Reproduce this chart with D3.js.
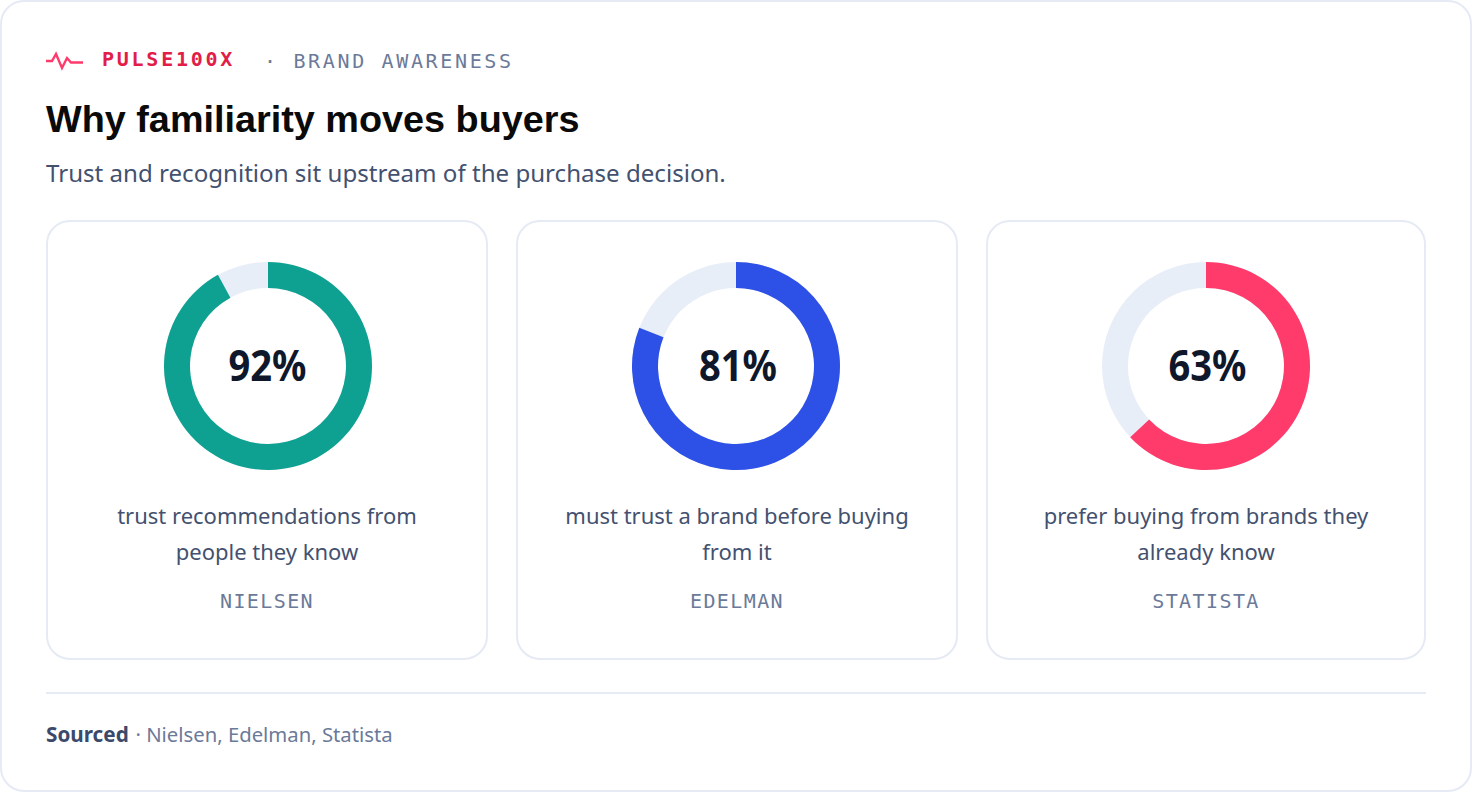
<!DOCTYPE html>
<html><head><meta charset="utf-8">
<script src="https://cdn.jsdelivr.net/npm/d3@7/dist/d3.min.js"></script>
<style>html,body{margin:0;padding:0;background:#fff}svg{display:block}</style>
</head><body><svg id="c" width="1472" height="792"></svg>
<script>
const percents=[92,81,63];
const sources=["NIELSEN","EDELMAN","STATISTA"];
const colors=["#0ea192","#2d50e6","#ff3b6b"];
const captions=[["trust recommendations from","people they know"],["must trust a brand before buying","from it"],["prefer buying from brands they","already know"]];
const pulsePts=[[0,0],[6,0],[10,-7],[16,7],[21,-3],[25,1.5],[37,1.5]];
const MONO="'DejaVu Sans Mono',monospace",SANS="'Noto Sans',sans-serif";
const svg=d3.select("#c");
const BORDER="#e6eaf5",GREY="#6b7a99",BODY="#43516f";
svg.append("rect").attr("x",1).attr("y",1).attr("width",1470).attr("height",790).attr("rx",23).attr("fill","#fff").attr("stroke",BORDER).attr("stroke-width",2);
const T=(x,y,s,size,fill,o={})=>svg.append("text").attr("x",x).attr("y",y).text(s).attr("font-size",size).attr("fill",fill)
  .attr("font-family",o.f||SANS).attr("font-weight",o.w||400).attr("text-anchor",o.a||"start").attr("letter-spacing",o.ls||0);
svg.append("path").attr("d",d3.line()(pulsePts)).attr("transform","translate(46,61)").attr("fill","none").attr("stroke","#ff3b6b").attr("stroke-width",2.4);
T(102,66,"PULSE100X",20,"#e11d48",{f:MONO,w:700,ls:2.75});
T(264,68,"· BRAND AWARENESS",20,GREY,{f:MONO,ls:2.65});
T(46,132,"Why familiarity moves buyers",37.8,"#0a0a0a",{f:"'Liberation Sans',sans-serif",w:700});
T(46,182,"Trust and recognition sit upstream of the purchase decision.",24.1,BODY);
const cardX=[47,517,987],cardW=[440,440,438],cx=[268,736,1206],tx=[267,737,1206],px=[267.5,738,1207.5];
const ang=d3.scaleLinear().domain([0,100]).range([0,2*Math.PI]);
const arc=d3.arc().innerRadius(78).outerRadius(104);
percents.forEach((p,i)=>{
  svg.append("rect").attr("x",cardX[i]).attr("y",221).attr("width",cardW[i]).attr("height",438).attr("rx",23).attr("fill","#fff").attr("stroke",BORDER).attr("stroke-width",2);
  const g=svg.append("g").attr("transform",`translate(${cx[i]},366)`);
  g.append("path").attr("d",arc({startAngle:0,endAngle:2*Math.PI})).attr("fill","#e8eef8");
  g.append("path").attr("d",arc({startAngle:0,endAngle:ang(p)})).attr("fill",colors[i]);
  T(px[i],380.5,p+"%",43,"#0f172a",{w:700,a:"middle"}).attr("textLength",78).attr("lengthAdjust","spacingAndGlyphs");
  T(tx[i],524,captions[i][0],22,BODY,{a:"middle"});
  T(tx[i],560,captions[i][1],22,BODY,{a:"middle"});
  T(tx[i],608,sources[i],20,GREY,{f:MONO,a:"middle",ls:1.4});
});
svg.append("rect").attr("x",46).attr("y",692).attr("width",1380).attr("height",2).attr("fill",BORDER);
const s=T(46,742,"",20.3,GREY);
s.append("tspan").text("Sourced").attr("font-weight",700).attr("font-size",20.7).attr("fill","#3b4a6b");
s.append("tspan").text(" · Nielsen, Edelman, Statista").attr("dx",1.5);
</script></body></html>
